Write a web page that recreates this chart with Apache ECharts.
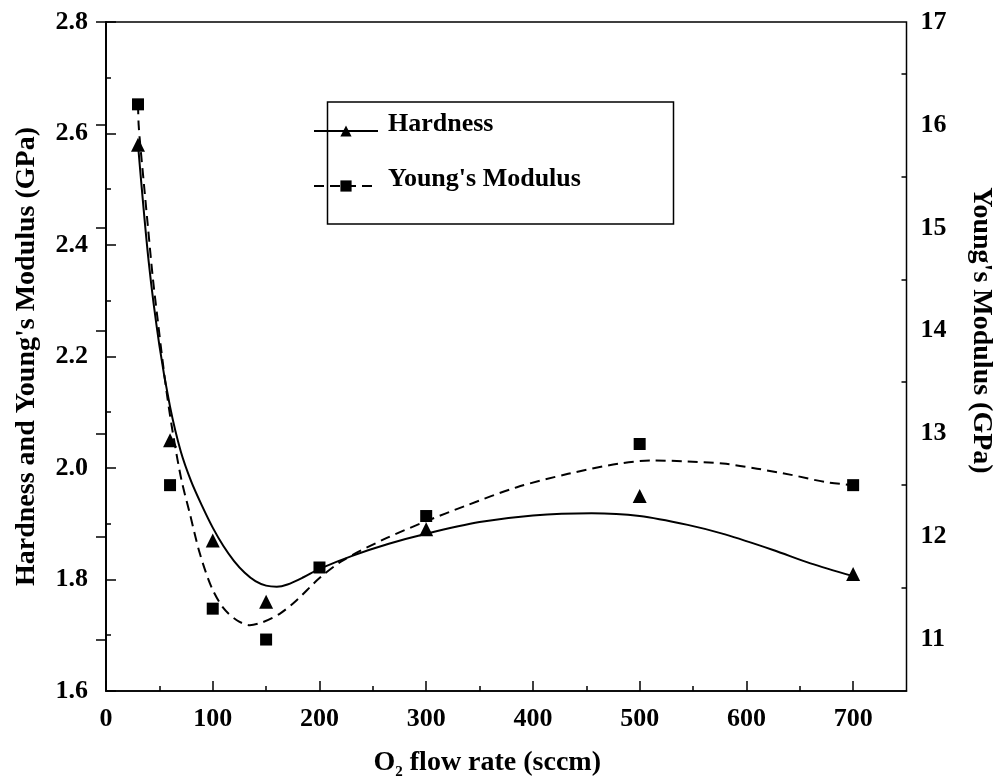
<!DOCTYPE html>
<html>
<head>
<meta charset="utf-8">
<title>Hardness and Young's Modulus vs O2 flow rate</title>
<script src="https://cdn.jsdelivr.net/npm/echarts@6/dist/echarts.min.js"></script>
<style>
  html, body { margin: 0; padding: 0; background: #fff; }
  #chart { width: 1003px; height: 778px; }
</style>
</head>
<body>
<div id="chart"></div>
<script>
// Measured points
const hardnessFlow = [30, 60, 100, 150, 300, 500, 700];
const hardness = [2.58, 2.05, 1.87, 1.76, 1.89, 1.95, 1.81];
const modulusFlow = [30, 60, 100, 150, 200, 300, 500, 700];
const modulus = [16.2, 12.5, 11.3, 11.0, 11.7, 12.2, 12.9, 12.5];

// Fitted curves
const hardnessFitFlow = [30, 40, 50, 60, 70, 80, 90, 100, 110, 120, 130, 140, 150, 160, 170, 185, 200, 230, 265, 300, 350, 400, 455, 500, 545, 580, 625, 660, 700];
const hardnessFit = [2.58, 2.37, 2.22, 2.11, 2.03, 1.975, 1.932, 1.893, 1.860, 1.833, 1.812, 1.797, 1.789, 1.787, 1.791, 1.804, 1.819, 1.842, 1.864, 1.882, 1.903, 1.915, 1.919, 1.914, 1.898, 1.881, 1.853, 1.829, 1.806];
const modulusFitFlow = [30, 30.6, 32.5, 35.3, 39.1, 43.8, 48.5, 53.1, 57.8, 63.4, 70.7, 78.4, 87.8, 98.8, 109.7, 122.2, 134.7, 147.1, 162.7, 178.4, 200.3, 222.1, 259.6, 300, 337, 385, 433, 481, 513, 545, 578, 610, 642, 674, 700];
const modulusFit = [16.2, 16.0, 15.76, 15.45, 15.03, 14.52, 14.10, 13.70, 13.33, 12.96, 12.55, 12.23, 11.84, 11.51, 11.31, 11.19, 11.14, 11.17, 11.25, 11.38, 11.60, 11.77, 11.97, 12.15, 12.30, 12.48, 12.61, 12.71, 12.74, 12.73, 12.71, 12.66, 12.60, 12.53, 12.50];

// Tick values
const xMajorTicks = [0, 100, 200, 300, 400, 500, 600, 700];
const xMinorTicks = [50, 150, 250, 350, 450, 550, 650];
const rightMajorTicks = [11, 12, 13, 14, 15, 16, 17];
const rightMinorTicks = [11.5, 12.5, 13.5, 14.5, 15.5, 16.5];

const FONT = '"Liberation Serif", "Times New Roman", serif';
const zip = (xs, ys) => xs.map((x, i) => [x, ys[i]]);

const labelStyle = { fontFamily: FONT, fontWeight: 'bold', fontSize: 26, color: '#000' };
const nameStyle = { fontFamily: FONT, fontWeight: 'bold', fontSize: 28, color: '#000' };
const lineAxis = { show: true, lineStyle: { color: '#000', width: 1.5 } };
const tickStyle = { color: '#000', width: 1.5 };

const chart = echarts.init(document.getElementById('chart'), null, { renderer: 'canvas' });

chart.setOption({
  animation: false,
  backgroundColor: '#fff',
  grid: {
    left: 106, right: 96.5, top: 22, bottom: 87,
    show: true, borderColor: '#000', borderWidth: 1.5, backgroundColor: 'transparent',
    containLabel: false,
    outerBoundsMode: 'none'
  },
  legend: {
    data: ['Hardness', "Young's Modulus"],
    orient: 'vertical',
    left: 313, top: 111,
    padding: 0,
    itemWidth: 64, itemHeight: 14, itemGap: 15,
    formatter: name => '{t|' + name + '}',
    textStyle: {
      fontFamily: FONT, fontWeight: 'bold', fontSize: 26, color: '#000',
      rich: {
        t: { fontFamily: FONT, fontWeight: 'bold', fontSize: 26, color: '#000', lineHeight: 30, padding: [0, 0, 14, 5] }
      }
    },
    selectedMode: false
  },
  graphic: [{
    type: 'rect',
    left: 325, top: 99.5,
    shape: { width: 346, height: 122 },
    style: { fill: 'none', stroke: '#000', lineWidth: 1.5 },
    z: 100
  }],
  xAxis: [{
    type: 'value', position: 'bottom',
    min: 0, max: 750,
    name: 'O{sub|2} flow rate (sccm)',
    nameLocation: 'middle', nameGap: 55,
    nameTextStyle: Object.assign({}, nameStyle, {
      lineHeight: 34, padding: [0, 38, 0, 0],
      rich: {
        sub: { fontFamily: FONT, fontWeight: 'bold', fontSize: 15, lineHeight: 15, verticalAlign: 'bottom', color: '#000' }
      }
    }),
    axisLine: lineAxis,
    axisTick: { show: true, inside: true, length: 10, lineStyle: tickStyle, customValues: xMajorTicks },
    axisLabel: Object.assign({}, labelStyle, { margin: 15, customValues: xMajorTicks }),
    splitLine: { show: false }
  }, {
    type: 'value', position: 'bottom',
    min: 0, max: 750,
    axisLine: { show: false },
    axisTick: { show: true, inside: true, length: 5, lineStyle: tickStyle, customValues: xMinorTicks },
    axisLabel: { show: false },
    splitLine: { show: false }
  }],
  yAxis: [{
    type: 'value', position: 'left',
    min: 1.6, max: 2.8, interval: 0.2,
    name: "Hardness and Young's Modulus (GPa)",
    nameLocation: 'middle', nameGap: 65,
    nameTextStyle: nameStyle,
    axisLine: lineAxis,
    axisTick: { show: true, inside: true, length: 10, lineStyle: tickStyle },
    minorTick: { show: true, splitNumber: 2, length: 5, lineStyle: tickStyle },
    axisLabel: Object.assign({}, labelStyle, { margin: 18, formatter: v => v.toFixed(1) }),
    splitLine: { show: false },
    minorSplitLine: { show: false }
  }, {
    type: 'value', position: 'right',
    min: 10.5, max: 17,
    name: "Young's Modulus (GPa)",
    nameLocation: 'middle', nameGap: 61, nameRotate: -90,
    nameTextStyle: Object.assign({}, nameStyle, { padding: [0, 52, 0, 0] }),
    axisLine: lineAxis,
    axisTick: { show: true, inside: true, length: 10, lineStyle: tickStyle, customValues: rightMajorTicks },
    axisLabel: Object.assign({}, labelStyle, { margin: 14, customValues: rightMajorTicks }),
    splitLine: { show: false }
  }, {
    type: 'value', position: 'right',
    min: 10.5, max: 17,
    axisLine: { show: false },
    axisTick: { show: true, inside: true, length: 5, lineStyle: tickStyle, customValues: rightMinorTicks },
    axisLabel: { show: false },
    splitLine: { show: false }
  }],
  series: [{
    name: 'Hardness',
    type: 'line',
    xAxisIndex: 0, yAxisIndex: 0,
    data: zip(hardnessFitFlow, hardnessFit),
    smooth: 0.3,
    symbol: 'triangle', showSymbol: false,
    lineStyle: { color: '#000', width: 2 },
    itemStyle: { color: '#000' },
    z: 3
  }, {
    name: "Young's Modulus",
    type: 'line',
    xAxisIndex: 0, yAxisIndex: 1,
    data: zip(modulusFitFlow, modulusFit),
    smooth: 0.3,
    symbol: 'rect', showSymbol: false,
    lineStyle: { color: '#000', width: 2, type: [10, 6] },
    itemStyle: { color: '#000' },
    z: 3
  }, {
    name: 'Hardness',
    type: 'scatter',
    xAxisIndex: 0, yAxisIndex: 0,
    data: zip(hardnessFlow, hardness),
    symbol: 'triangle', symbolSize: 14,
    itemStyle: { color: '#000', opacity: 1 },
    z: 4
  }, {
    name: "Young's Modulus",
    type: 'scatter',
    xAxisIndex: 0, yAxisIndex: 1,
    data: zip(modulusFlow, modulus),
    symbol: 'rect', symbolSize: 12,
    itemStyle: { color: '#000', opacity: 1 },
    z: 4
  }]
});
</script>
</body>
</html>
